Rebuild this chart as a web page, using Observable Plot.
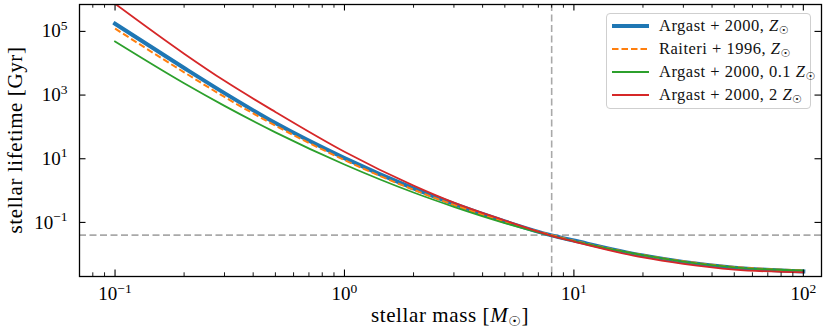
<!DOCTYPE html>
<html><head><meta charset="utf-8">
<script src="https://cdn.jsdelivr.net/npm/d3@7"></script>
<script src="https://cdn.jsdelivr.net/npm/@observablehq/plot@0.6"></script>
<style>
body{margin:0;background:#fff;}
#wrap{position:relative;width:830px;height:335px;font-family:"Liberation Serif",serif;}
#legend{position:absolute;left:606px;top:13px;width:205px;height:96px;border:1px solid #cfcfcf;border-radius:4px;background:rgba(255,255,255,0.85);box-sizing:border-box;}
.row{position:absolute;left:0;height:22px;width:100%;}
.row svg{position:absolute;left:4px;top:0;}
.row span{position:absolute;left:52px;top:0;line-height:22px;font-family:"Liberation Serif",serif;font-size:16.5px;letter-spacing:0.5px;white-space:nowrap;color:#111;}
.row sub{font-size:11px;vertical-align:-3px;line-height:0;}
</style></head><body><div id="wrap"></div>
<script>
// ---- data ----
const masses = [0.1, 0.2, 0.3, 0.5, 1, 2, 3, 5, 8, 10, 20, 30, 50, 100];
const argastSolar = [1.74e5, 7.1e3, 1.15e3, 132, 10.5, 1.17, 0.38, 0.107, 0.039, 0.0269, 0.00912, 0.00575, 0.0038, 0.00288];
const raiteriSolar = [1.23e5, 5.2e3, 871, 110, 9.1, 1.06, 0.355, 0.105, 0.0398, 0.0266, 0.0095, 0.006, 0.0040, 0.0031];
const argastLowZ = [4.79e4, 2.34e3, 457, 67.6, 6.6, 0.87, 0.309, 0.0955, 0.038, 0.0257, 0.00933, 0.00589, 0.00389, 0.00309];
const argastHighZ = [7.4e5, 2.0e4, 2.8e3, 295, 16.6, 1.43, 0.417, 0.115, 0.038, 0.0251, 0.00794, 0.00501, 0.00331, 0.00269];
const seriesLabels = [["Argast + 2000, ", ""], ["Raiteri + 1996, ", ""], ["Argast + 2000, ", "0.1 "], ["Argast + 2000, ", "2 "]];
const xMajorTicks = [0.1, 1, 10, 100];
const xMinorTicks = [0.07, 0.08, 0.09, 0.2, 0.3, 0.4, 0.5, 0.6, 0.7, 0.8, 0.9, 2, 3, 4, 5, 6, 7, 8, 9, 20, 30, 40, 50, 60, 70, 80, 90];
const yMajorTicks = [0.1, 10, 1000, 100000];
const refMass = 8;
const refLifetime = 0.04;
const xDomain = [0.07, 120];
const yDomain = [0.002, 7e5];

// ---- layout ----
const W = 830, H = 335, mL = 79, mR = 9, mT = 4, mB = 59;
const plotW = W - mL - mR, plotH = H - mT - mB;
const rows = vals => masses.map((m, i) => ({mass: m, lifetime: vals[i]}));
const colors = ["#1f77b4", "#ff7f0e", "#2ca02c", "#d62728"];

const tickStyle = {stroke: "black", strokeWidth: 1.1};
const svg = Plot.plot({
  width: W, height: H,
  marginLeft: mL, marginRight: mR, marginTop: mT, marginBottom: mB,
  style: {fontFamily: "Liberation Serif, serif", fontSize: "19px", background: "white", color: "black"},
  x: {type: "log", domain: xDomain},
  y: {type: "log", domain: yDomain},
  marks: [
    Plot.ruleX([refMass], {stroke: "#a9a9a9", strokeWidth: 1.6, strokeDasharray: "7,3.5"}),
    Plot.ruleY([refLifetime], {stroke: "#a9a9a9", strokeWidth: 1.6, strokeDasharray: "7,3.5"}),
    Plot.line(rows(argastSolar), {x: "mass", y: "lifetime", stroke: colors[0], strokeWidth: 4, strokeLinecap: "square", curve: "monotone-x", clip: true}),
    Plot.line(rows(raiteriSolar), {x: "mass", y: "lifetime", stroke: colors[1], strokeWidth: 2, strokeDasharray: "6.5,3", strokeLinecap: "butt", curve: "monotone-x", clip: true}),
    Plot.line(rows(argastLowZ), {x: "mass", y: "lifetime", stroke: colors[2], strokeWidth: 1.8, strokeLinecap: "square", curve: "monotone-x", clip: true}),
    Plot.line(rows(argastHighZ), {x: "mass", y: "lifetime", stroke: colors[3], strokeWidth: 1.8, strokeLinecap: "square", curve: "monotone-x", clip: true}),
    // inward ticks on all four sides
    Plot.ruleX(xMajorTicks, {insetTop: plotH - 6.5, ...tickStyle}),
    Plot.ruleX(xMajorTicks, {insetBottom: plotH - 6.5, ...tickStyle}),
    Plot.ruleX(xMinorTicks, {insetTop: plotH - 3.7, ...tickStyle, strokeWidth: 0.9}),
    Plot.ruleX(xMinorTicks, {insetBottom: plotH - 3.7, ...tickStyle, strokeWidth: 0.9}),
    Plot.ruleY(yMajorTicks, {insetRight: plotW - 6.5, ...tickStyle}),
    Plot.ruleY(yMajorTicks, {insetLeft: plotW - 6.5, ...tickStyle}),
    Plot.axisX({ticks: xMajorTicks, tickSize: 0, tickPadding: 10, label: null, tickFormat: d => "10^" + Math.round(Math.log10(d))}),
    Plot.axisY({ticks: yMajorTicks, tickSize: 0, tickPadding: 12, label: null, tickFormat: d => "10^" + Math.round(Math.log10(d))}),
    Plot.frame({stroke: "black", strokeWidth: 1.3})
  ]
});

// superscript exponents in tick labels
svg.querySelectorAll("text").forEach(t => {
  const m = /^10\^(-?\d+)$/.exec(t.textContent);
  if (!m) return;
  t.textContent = "10";
  const sup = document.createElementNS("http://www.w3.org/2000/svg", "tspan");
  sup.setAttribute("font-size", "13.5px");
  sup.setAttribute("dy", "-0.55em");
  sup.textContent = m[1].replace("-", "\u2212");
  t.appendChild(sup);
});

// axis titles
const s = d3.select(svg);
const xl = s.append("text").attr("x", mL + plotW / 2).attr("y", 322).attr("text-anchor", "middle")
  .attr("font-size", "21px").attr("letter-spacing", "0.6px").attr("fill", "black");
xl.append("tspan").text("stellar mass [");
xl.append("tspan").attr("font-style", "italic").text("M");
xl.append("tspan").attr("font-size", "14px").attr("dy", 4).attr("font-family", "DejaVu Sans").text("\u2609");
xl.append("tspan").attr("dy", -4).text("]");
s.append("text").attr("transform", `translate(22,${mT + plotH / 2}) rotate(-90)`).attr("text-anchor", "middle")
  .attr("font-size", "21px").attr("letter-spacing", "0.6px").attr("fill", "black").text("stellar lifetime [Gyr]");

const wrap = document.getElementById("wrap");
wrap.appendChild(svg);

// legend
const legend = document.createElement("div");
legend.id = "legend";
const rowTops = [1, 24, 46.5, 69.5];
seriesLabels.forEach(([a, b], i) => {
  const r = document.createElement("div");
  r.className = "row";
  r.style.top = rowTops[i] + "px";
  const dash = i === 1 ? 'stroke-dasharray="6.5,3"' : "";
  const sw = i === 0 ? 4 : (i === 1 ? 2 : 1.8);
  r.innerHTML = `<svg width="40" height="22"><line x1="1" x2="38" y1="11" y2="11" stroke="${colors[i]}" stroke-width="${sw}" ${dash}/></svg>` +
    `<span>${a}${b}<i>Z</i><sub style="font-family:'DejaVu Sans'">\u2609</sub></span>`;
  legend.appendChild(r);
});
wrap.appendChild(legend);
</script>
</body></html>
